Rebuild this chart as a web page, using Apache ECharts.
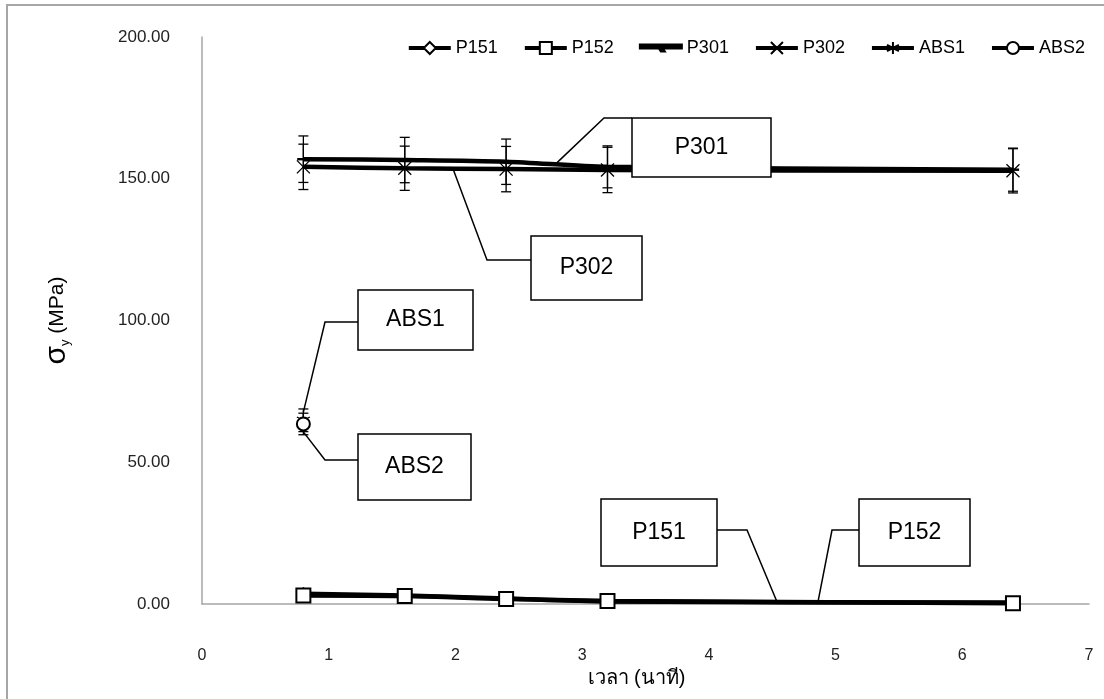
<!DOCTYPE html>
<html lang="th">

<head>
    <meta charset="UTF-8">
    <title>sigma y</title>
    <style>
        html,
        body,
        #chart {
            margin: 0;
            padding: 0;
            overflow: hidden;
            width: 100%;
            height: 100%;
            background: #fff;
        }

        .frame {
            position: absolute;
            left: 6px;
            top: 4px;
            right: 0;
            bottom: 0;
            border-left: 2px solid #a6a6a6;
            border-top: 2px solid #a6a6a6;
            pointer-events: none;
        }
    </style>
</head>

<body>
    <div id="chart"></div>
    <div class="frame"></div>
    <script src="https://cdn.jsdelivr.net/npm/echarts@6.0.0/dist/echarts.min.js"></script>
    <script>
        // เวลา (นาที)
        var times = [0.8, 1.6, 2.4, 3.2, 6.4];
        var p151 = [3.6, 3.0, 1.9, 0.9, 0.5];
        var p152 = [3.0, 2.8, 1.8, 1.1, 0.3];
        var p301 = [156.9, 156.6, 156.0, 154.2, 153.2];
        var p302 = [154.2, 153.7, 153.4, 153.1, 152.8];
        var p301Err = [8.2, 8.0, 8.0, 7.4, 7.6];
        var p302Err = [8.0, 7.8, 8.0, 8.0, 7.8];
        var absTimes = [0.8];
        var abs1 = [64.8];
        var abs2 = [63.5];
        var abs1Err = [4.0];
        var abs2Err = [3.8];

        var legendNames = ['P151', 'P152', 'P301', 'P302', 'ABS1', 'ABS2'];

        // callouts: anchor in data units, box [left, top, w, h] and elbow in px
        var calloutNames = ['P301', 'P302', 'ABS1', 'ABS2', 'P151', 'P152'];
        var calloutAnchors = [[2.80, 155.6], [1.98, 153.6], [0.8, 67.7], [0.8, 60.7], [4.54, 0.5], [4.86, 0.5]];
        var calloutBoxes = [[632, 118, 139, 59], [531, 236, 111, 64], [358, 290, 115, 60],
            [358, 434, 113, 66], [601, 499, 116, 67], [859, 499, 111, 67]];
        var calloutElbows = [[604, 118], [487, 260], [325, 322], [325, 460], [747, 530], [832, 530]];

        var FONT = "'Liberation Sans', Arial, sans-serif";
        var SYM_X = 'path://M0,0L10,10M10,0L0,10';
        var SYM_STAR = 'path://M5,0L5,10M0,2.5L10,7.5M0,7.5L10,2.5';
        var SYM_DASH = 'path://M0,0L10,0L10,1L0,1Z';
        // legend icon for P301: thick line with a small dash tick
        var ICON_DASH = 'path://M0,0L42,0L42,4L0,4ZM19,4L23,4L25,7L21,7Z';

        function pairs(xs, ys) {
            return xs.map(function (x, i) { return [x, ys[i]]; });
        }

        function errData(xs, ys, es) {
            return xs.map(function (x, i) { return [x, ys[i] - es[i], ys[i] + es[i]]; });
        }

        function lineSeries(name, xs, ys, symbol, size) {
            return {
                type: 'line',
                name: name,
                data: pairs(xs, ys),
                smooth: 0.3,
                symbol: symbol,
                symbolSize: size,
                symbolKeepAspect: true,
                showAllSymbol: true,
                lineStyle: { color: '#000', width: 4.5 },
                itemStyle: { color: '#000', borderColor: '#000', borderWidth: 1.3 },
                z: 3
            };
        }

        function errSeries(data) {
            return {
                type: 'custom',
                data: data,
                z: 2,
                silent: true,
                encode: { x: 0, y: [1, 2] },
                renderItem: function (params, api) {
                    var x = api.value(0);
                    var lo = api.coord([x, api.value(1)]);
                    var hi = api.coord([x, api.value(2)]);
                    var w = 5;
                    var st = { stroke: '#000', lineWidth: 1.3 };
                    return {
                        type: 'group',
                        children: [
                            { type: 'line', shape: { x1: lo[0], y1: lo[1], x2: hi[0], y2: hi[1] }, style: st },
                            { type: 'line', shape: { x1: lo[0] - w, y1: lo[1], x2: lo[0] + w, y2: lo[1] }, style: st },
                            { type: 'line', shape: { x1: hi[0] - w, y1: hi[1], x2: hi[0] + w, y2: hi[1] }, style: st }
                        ]
                    };
                }
            };
        }

        var legendData = legendNames.map(function (n) {
            return n === 'P301' ? { name: n, icon: ICON_DASH } : { name: n };
        });

        var chart = echarts.init(document.getElementById('chart'));

        chart.setOption({
            animation: false,
            backgroundColor: '#fff',
            textStyle: { fontFamily: FONT },
            grid: { left: 202, right: 15, top: 37, bottom: 95, containLabel: false },
            legend: {
                data: legendData,
                right: 14,
                top: 34,
                itemWidth: 42,
                itemHeight: 15,
                itemGap: 25,
                lineStyle: { width: 4 },
                textStyle: { fontSize: 18, color: '#000', fontFamily: FONT }
            },
            xAxis: {
                type: 'value',
                min: 0,
                max: 7,
                interval: 1,
                name: 'เวลา (นาที)',
                nameLocation: 'middle',
                nameGap: 56,
                nameTextStyle: { fontSize: 20, color: '#000', padding: [0, 18, 0, 0] },
                axisLine: { lineStyle: { color: '#a6a6a6', width: 1.5 } },
                axisTick: { show: false },
                splitLine: { show: false },
                axisLabel: { margin: 44, fontSize: 16, color: '#222' }
            },
            yAxis: {
                type: 'value',
                min: 0,
                max: 200,
                interval: 50,
                name: '{s|σ}{sub|y}{m| (MPa)}',
                nameLocation: 'middle',
                nameGap: 130,
                nameRotate: 90,
                nameTextStyle: {
                    color: '#000',
                    fontSize: 20,
                    rich: {
                        s: { fontSize: 30, color: '#000', fontFamily: FONT },
                        sub: { fontSize: 13, color: '#000', fontFamily: FONT, verticalAlign: 'bottom' },
                        m: { fontSize: 21, color: '#000', fontFamily: FONT }
                    }
                },
                axisLine: { show: true, lineStyle: { color: '#a6a6a6', width: 1.5 } },
                axisTick: { show: false },
                splitLine: { show: false },
                axisLabel: {
                    margin: 32,
                    fontSize: 17,
                    color: '#222',
                    formatter: function (v) { return v.toFixed(2); }
                }
            },
            series: [
                errSeries(errData(times, p301, p301Err)),
                errSeries(errData(times, p302, p302Err)),
                errSeries(errData(absTimes, abs1, abs1Err)),
                errSeries(errData(absTimes, abs2, abs2Err)),
                lineSeries('P151', times, p151, 'emptyDiamond', 11),
                lineSeries('P152', times, p152, 'emptyRect', 14),
                lineSeries('P301', times, p301, SYM_DASH, 11),
                lineSeries('P302', times, p302, SYM_X, 13),
                lineSeries('ABS1', absTimes, abs1, SYM_STAR, 13),
                lineSeries('ABS2', absTimes, abs2, 'emptyCircle', 13)
            ]
        });

        // callout boxes with leader lines
        var graphics = [];
        calloutNames.forEach(function (name, i) {
            var a = chart.convertToPixel({ gridIndex: 0 }, calloutAnchors[i]);
            var b = calloutBoxes[i];
            var e = calloutElbows[i];
            var endX = e[0] < b[0] ? b[0] : b[0] + b[2];
            graphics.push({
                type: 'polyline',
                shape: { points: [a, e, [endX, e[1]]] },
                style: { stroke: '#000', lineWidth: 1.5, fill: null },
                z: 10
            });
            graphics.push({
                type: 'rect',
                shape: { x: b[0], y: b[1], width: b[2], height: b[3] },
                style: { fill: '#fff', stroke: '#000', lineWidth: 1.5 },
                z: 10
            });
            graphics.push({
                type: 'text',
                x: b[0] + b[2] / 2,
                y: b[1] + b[3] / 2,
                style: {
                    text: name,
                    fontSize: 23,
                    fontFamily: FONT,
                    fill: '#000',
                    align: 'center',
                    verticalAlign: 'middle'
                },
                z: 11
            });
        });
        chart.setOption({ graphic: graphics });
    </script>
</body>

</html>
